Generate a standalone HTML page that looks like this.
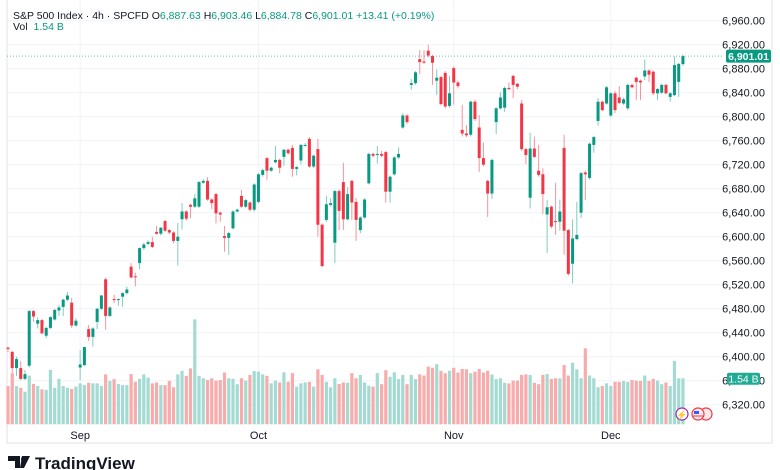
<!DOCTYPE html>
<html><head><meta charset="utf-8">
<style>
html,body{margin:0;padding:0;background:#fff;}
body{width:780px;height:470px;overflow:hidden;position:relative;font-family:"Liberation Sans",sans-serif;}
svg{position:absolute;left:0;top:0;}
</style></head>
<body>
<svg id="chart" width="780" height="470" viewBox="0 0 780 470" xmlns="http://www.w3.org/2000/svg">
  <g id="grid"></g>
  <g id="vols"></g>
  <g id="candles"></g>
  <g id="axes"></g>
  <text x="13" y="19" font-size="10.5" fill="#131722">S&amp;P 500 Index · 4h · SPCFD <tspan fill="#131722">O</tspan><tspan fill="#089981">6,887.63</tspan> <tspan fill="#131722">H</tspan><tspan fill="#089981">6,903.46</tspan> <tspan fill="#131722">L</tspan><tspan fill="#089981">6,884.78</tspan> <tspan fill="#131722">C</tspan><tspan fill="#089981">6,901.01 +13.41 (+0.19%)</tspan></text>
  <text x="13" y="30" font-size="10.5" fill="#131722">Vol <tspan fill="#089981" dx="3">1.54 B</tspan></text>
  <g><circle cx="682" cy="414" r="6" fill="#fff" stroke="#9c27b0" stroke-width="1.2"/><text x="682" y="418" font-size="9" fill="#9c27b0" text-anchor="middle">⚡</text></g>
  <g><circle cx="706" cy="414" r="6" fill="#fde8ea" stroke="#f23645" stroke-width="1.2"/><circle cx="698" cy="414" r="6" fill="#fde8ea" stroke="#f23645" stroke-width="1.2"/><rect x="694" y="411" width="5" height="3" fill="#2962ff"/><line x1="693" y1="416" x2="703" y2="416" stroke="#f23645"/></g>
  <g>
    <path d="M8 456 h12 v12 h-5 v-7 h-7z M22 456 h8 l-6 12 h-4z" fill="#131722"/>
    <circle cx="23" cy="459" r="2" fill="#131722"/>
    <text x="35" y="469" font-size="17" font-weight="bold" fill="#131722">TradingView</text>
  </g>
</svg>
<script>
const opens=[6415,6408,6381,6381,6363,6385,6476,6455,6461,6435,6448,6462,6477,6483,6495,6490,6452,6382,6386,6446,6433,6458,6480,6529,6468,6496,6495,6500,6506,6550,6534,6556,6581,6588,6591,6608,6605,6626,6611,6607,6593,6629,6642,6653,6650,6650,6690,6693,6662,6671,6640,6601,6598,6614,6642,6668,6650,6657,6645,6658,6703,6731,6710,6724,6728,6733,6745,6748,6713,6727,6752,6763,6717,6746,6620,6628,6653,6590,6676,6691,6629,6693,6658,6611,6632,6689,6738,6737,6738,6741,6675,6704,6732,6782,6802,6853,6856,6896,6892,6910,6901,6860,6866,6873,6818,6881,6857,6778,6772,6770,6825,6782,6731,6693,6672,6791,6814,6815,6848,6868,6855,6822,6746,6665,6747,6710,6704,6637,6650,6626,6625,6748,6611,6555,6596,6640,6707,6698,6753,6793,6825,6822,6802,6839,6832,6822,6814,6853,6865,6860,6867,6877,6875,6839,6840,6853,6833,6836,6858,6887.63];
const closes=[6413,6381,6396,6363,6371,6476,6467,6461,6439,6448,6466,6478,6482,6495,6502,6452,6460,6387,6416,6433,6447,6480,6502,6468,6482,6495,6496,6506,6512,6532,6533,6581,6587,6591,6583,6605,6615,6610,6607,6593,6600,6642,6630,6650,6664,6691,6693,6662,6656,6639,6637,6598,6606,6642,6645,6650,6661,6645,6687,6704,6711,6710,6715,6728,6715,6745,6739,6713,6716,6753,6753,6717,6735,6620,6551,6654,6656,6676,6643,6629,6671,6657,6628,6632,6662,6738,6735,6738,6735,6675,6700,6732,6738,6802,6791,6856,6874,6891,6890,6902,6890,6865,6821,6817,6839,6857,6851,6772,6769,6825,6796,6731,6720,6672,6728,6814,6832,6848,6846,6853,6850,6746,6736,6747,6733,6703,6671,6649,6617,6625,6642,6610,6538,6597,6603,6706,6704,6755,6766,6825,6811,6849,6839,6811,6823,6829,6853,6849,6858,6857,6877,6870,6839,6846,6853,6839,6839,6886,6888,6901.01];
const highs=[6417,6410,6400,6393,6378,6478,6478,6466,6463,6450,6467,6480,6486,6497,6508,6498,6464,6411,6417,6453,6449,6481,6503,6532,6484,6503,6497,6507,6517,6556,6540,6582,6590,6594,6600,6618,6616,6628,6613,6609,6623,6656,6644,6655,6671,6693,6696,6699,6664,6673,6642,6618,6608,6644,6647,6678,6663,6659,6689,6706,6713,6733,6717,6751,6730,6746,6747,6753,6718,6755,6756,6766,6737,6763,6622,6668,6664,6678,6679,6723,6683,6695,6665,6634,6664,6740,6740,6751,6743,6743,6702,6734,6749,6806,6804,6863,6876,6911,6911,6920,6903,6879,6868,6876,6868,6884,6860,6820,6786,6827,6828,6803,6757,6695,6730,6816,6841,6850,6857,6870,6856,6828,6748,6773,6767,6753,6714,6661,6652,6690,6662,6770,6613,6629,6658,6708,6710,6757,6768,6831,6827,6851,6841,6843,6851,6832,6855,6855,6867,6862,6895,6879,6877,6848,6855,6855,6841,6900,6890,6903.46];
const lows=[6408,6373,6368,6361,6361,6382,6458,6447,6437,6431,6446,6460,6468,6468,6493,6448,6450,6361,6384,6426,6417,6446,6478,6445,6466,6489,6485,6483,6504,6531,6517,6546,6578,6586,6581,6603,6602,6608,6604,6589,6552,6612,6627,6631,6648,6648,6688,6660,6646,6622,6625,6575,6570,6612,6640,6648,6648,6642,6642,6656,6700,6695,6708,6722,6706,6718,6737,6700,6702,6720,6750,6715,6714,6600,6549,6625,6650,6556,6611,6611,6627,6628,6593,6606,6630,6687,6732,6722,6732,6657,6657,6702,6730,6780,6788,6845,6853,6871,6888,6899,6853,6836,6819,6814,6815,6820,6847,6767,6766,6767,6793,6708,6717,6633,6663,6771,6812,6808,6844,6831,6846,6743,6721,6647,6731,6700,6638,6573,6614,6603,6610,6570,6535,6522,6594,6631,6661,6695,6740,6785,6809,6820,6799,6806,6821,6820,6811,6847,6828,6828,6861,6858,6836,6828,6838,6837,6825,6834,6833,6884.78];
const volumes=[1.28,1.71,1.28,1.22,1.09,1.63,1.35,1.28,1.17,1.15,1.82,1.22,1.52,1.28,1.22,1.18,1.26,1.37,1.31,1.39,1.37,1.37,1.28,1.67,1.45,1.51,1.35,1.31,1.31,1.68,1.42,1.52,1.67,1.56,1.37,1.40,1.31,1.31,1.45,1.24,1.67,1.79,1.62,1.87,3.51,1.62,1.54,1.48,1.54,1.46,1.48,1.73,1.54,1.52,1.34,1.54,1.46,1.65,1.78,1.76,1.67,1.62,1.37,1.46,1.40,1.74,1.42,1.71,1.26,1.37,1.40,1.42,1.26,1.84,1.65,1.42,1.24,1.54,1.35,1.40,1.39,1.71,1.54,1.65,1.40,1.29,1.26,1.71,1.34,1.81,1.59,1.74,1.51,1.65,1.34,1.65,1.51,1.67,1.63,1.93,1.89,2.01,1.79,1.71,1.79,1.89,1.73,1.85,1.84,1.71,1.76,1.85,1.73,1.79,1.67,1.51,1.54,1.39,1.37,1.46,1.46,1.65,1.67,1.65,1.39,1.34,1.65,1.68,1.52,1.54,1.54,1.98,1.63,2.06,1.84,1.54,2.54,1.63,1.54,1.24,1.28,1.37,1.28,1.42,1.42,1.45,1.42,1.48,1.46,1.45,1.63,1.45,1.52,1.46,1.34,1.40,1.28,2.12,1.54,1.54];
const priceTicks=[6960,6920,6880,6840,6800,6760,6720,6680,6640,6600,6560,6520,6480,6440,6400,6360,6320];
const monthLabels=["Sep","Oct","Nov","Dec"];
const monthIndex=[17,59,105,142];
const lastPrice=6901.01;
const lastVolume=1.54;

const NS="http://www.w3.org/2000/svg";
function mk(tag,attrs,parent){const e=document.createElementNS(NS,tag);for(const k in attrs)e.setAttribute(k,attrs[k]);parent.appendChild(e);return e;}
const xOf=i=>8+i*4.245;
const yP=p=>44.7+(6920-p)*0.6;
const yV=v=>424.3-v*29.9;
const PANE_R=723;
const grid=document.getElementById('grid'),vols=document.getElementById('vols'),cg=document.getElementById('candles'),ax=document.getElementById('axes');

priceTicks.forEach(p=>{
  const l=mk('line',{x1:7,x2:PANE_R,y1:yP(p),y2:yP(p),stroke:'#f0f3fa','stroke-width':1},grid);
  
  
  const t=mk('text',{x:765,y:yP(p)+4,'font-size':11,fill:'#131722','text-anchor':'end'},ax);
  
  
  t.textContent=p.toLocaleString('en-US',{minimumFractionDigits:2});
});
monthLabels.forEach((m,k)=>{
  const x=xOf(monthIndex[k]);
  const l=mk('line',{x1:x,x2:x,y1:0,y2:424,stroke:'#f0f3fa','stroke-width':1},grid);
  
  
  const t=mk('text',{x:x,y:439,'font-size':11,fill:'#131722','text-anchor':'middle'},ax);
  
  
  t.textContent=m;
});
const fr=mk('path',{d:'M7 0 V443 H772 V0',fill:'none',stroke:'#e0e3eb','stroke-width':1},grid);



volumes.forEach((v,i)=>{
  const up=closes[i]>=opens[i];
  const r=mk('rect',{x:xOf(i)-1.6,y:yV(v),width:3.2,height:424.3-yV(v),fill:up?'#a3dbd2':'#f8abab'},vols);
  
  
});

opens.forEach((o,i)=>{
  const c=closes[i],up=c>=o,x=xOf(i);
  const w=mk('line',{x1:x,x2:x,y1:yP(highs[i]),y2:yP(lows[i]),stroke:up?'#7fccbe':'#f6939b','stroke-width':1},cg);
  
  
  const top=yP(Math.max(o,c)),bot=yP(Math.min(o,c));
  const b=mk('rect',{x:x-1.5,y:top,width:3,height:Math.max(1,bot-top),fill:up?'#089981':'#f23645'},cg);
  
  
});

const pl=mk('line',{x1:7,x2:PANE_R,y1:yP(lastPrice),y2:yP(lastPrice),stroke:'#089981','stroke-width':1,'stroke-dasharray':'1 2',opacity:0.6},ax);


const pb=mk('rect',{x:726,y:yP(lastPrice)-6.5,width:45,height:13,rx:2,fill:'#089981'},ax);


const pt=mk('text',{x:748.5,y:yP(lastPrice)+4,'font-size':10.5,'font-weight':'bold',fill:'#fff','text-anchor':'middle'},ax);


pt.textContent=lastPrice.toLocaleString('en-US',{minimumFractionDigits:2});
const vb=mk('rect',{x:727,y:yV(lastVolume)-5.5,width:33,height:12,rx:2,fill:'#22ab94'},ax);


const vt=mk('text',{x:743.5,y:yV(lastVolume)+4,'font-size':10.5,fill:'#fff','text-anchor':'middle'},ax);


vt.textContent=lastVolume.toFixed(2)+' B';
</script>
</body></html>
